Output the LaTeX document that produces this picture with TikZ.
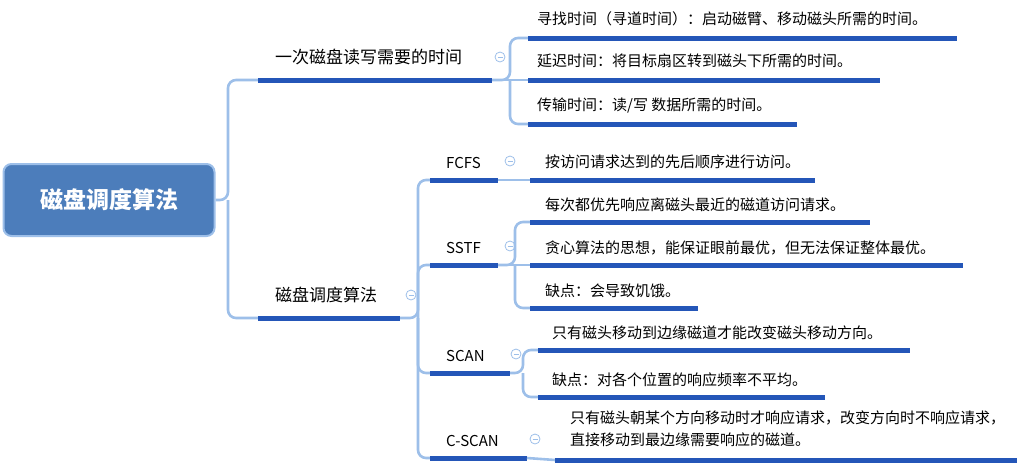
\documentclass[tikz,border=0pt]{standalone}
\usepackage{fontspec}
\setmainfont{Noto Sans CJK SC}
\begin{document}
\begin{tikzpicture}[x=1pt,y=-1pt,
  txt/.style={anchor=base west,inner sep=0pt,font=\fontsize{15}{17}\selectfont},
  big/.style={anchor=base west,inner sep=0pt,font=\fontsize{17}{19}\selectfont},
  ul/.style={line width=5pt,draw=ublue},
  cn/.style={line width=2.6pt,draw=cblue,rounded corners=8pt},
  col/.style={circle,draw=cblue,line width=0.8pt,minimum size=10pt,inner sep=0pt,
    path picture={\draw[cblue,line width=0.8pt] ([xshift=-2.5pt]path picture bounding box.center) -- ([xshift=2.5pt]path picture bounding box.center);}}]
\definecolor{ublue}{HTML}{2456B8}
\definecolor{cblue}{HTML}{9DBFE9}
\definecolor{rootf}{HTML}{4C7DBB}
\useasboundingbox (0,0) rectangle (1017,475);
% root
\node[draw=cblue,line width=2pt,fill=rootf,rounded corners=8pt,minimum width=211pt,minimum height=72pt,text=white,font=\fontsize{23}{25}\selectfont\bfseries] (root) at (109,200) {磁盘调度算法};
\coordinate (a1) at (258,80); \coordinate (a2) at (492,80);
\coordinate (b1) at (258,318); \coordinate (b2) at (400,318);
\node[big] (ta) at (275,63) {一次磁盘读写需要的时间};
\node[col] (ca) at (500,57) {};
\node[big] (tb) at (275,301) {磁盘调度算法};
\node[col] (cb) at (411,295) {};
\draw[cn] (root.east) -- (228,200) |- (a1);
\draw[cn] (228,200) |- (b1);
\draw[ul] (a1) -- (a2); \draw[ul] (b1) -- (b2);
% branch 1 children
\foreach \y/\e/\t [count=\i] in {38/957/{寻找时间（寻道时间）：启动磁臂、移动磁头所需的时间。},80/880/{延迟时间：将目标扇区转到磁头下所需的时间。},124/797/{传输时间：读/写 数据所需的时间。}}{
  \node[txt] (a\i t) at (537,\y-14) {\t};
  \coordinate (a\i s) at (528,\y); \coordinate (a\i e) at (\e,\y);
}
\draw[cn] (a2) -- (510,80) |- (a1s);
\draw[cn] (510,80) |- (a3s);
\draw[cn] (a2) -- (a2s);
\foreach \i in {1,2,3} \draw[ul] (a\i s) -- (a\i e);
% branch 2 level2
\foreach \n/\y/\e/\t/\cx in {f/180/498/FCFS/510,s/265/498/SSTF/510,sc/373/510/SCAN/516,cs/458/527/C-SCAN/535}{
  \node[txt] (\n t) at (446,\y-12) {\t};
  \node[col] (\n c) at (\cx,\y-19) {};
  \coordinate (\n 1) at (430,\y); \coordinate (\n 2) at (\e,\y);
}
\draw[cn] (b2) -- (418,318) |- (f1);
\draw[cn] (418,318) |- (cs1);
\draw[cn] (418,318) |- (s1);
\draw[cn] (418,318) |- (sc1);
\foreach \n in {f,s,sc,cs} \draw[ul] (\n 1) -- (\n 2);
% FCFS child
\node[txt] (f1t) at (545,167) {按访问请求达到的先后顺序进行访问。};
\coordinate (f1s) at (530,180); \coordinate (f1e) at (815,180);
\draw[cn] (f2) -- (f1s);
\draw[ul] (f1s) -- (f1e);
% SSTF children
\foreach \y/\e/\t [count=\i] in {222/870/{每次都优先响应离磁头最近的磁道访问请求。},265/963/{贪心算法的思想，能保证眼前最优，但无法保证整体最优。},308/698/{缺点：会导致饥饿。}}{
  \node[txt] (s\i t) at (545,\y-12) {\t};
  \coordinate (s\i s) at (530,\y); \coordinate (s\i e) at (\e,\y);
}
\draw[cn] (s2) -- (515,265) |- (s1s);
\draw[cn] (515,265) |- (s3s);
\draw[cn] (s2) -- (s2s);
\foreach \i in {1,2,3} \draw[ul] (s\i s) -- (s\i e);
% SCAN children
\foreach \y/\e/\t [count=\i] in {350/910/{只有磁头移动到边缘磁道才能改变磁头移动方向。},397/825/{缺点：对各个位置的响应频率不平均。}}{
  \node[txt] (sc\i t) at (552,\y-12) {\t};
  \coordinate (sc\i s) at (538,\y); \coordinate (sc\i e) at (\e,\y);
}
\draw[cn] (sc2) -- (523,373) |- (sc1s);
\draw[cn] (523,373) |- (sc2s);
\foreach \i in {1,2} \draw[ul] (sc\i s) -- (sc\i e);
% C-SCAN child
\node[txt,align=left,anchor=north west,font=\fontsize{15}{22}\selectfont] (cs1t) at (570,411) {只有磁头朝某个方向移动时才响应请求，改变方向时不响应请求，\\直接移动到最边缘需要响应的磁道。};
\coordinate (cs1s) at (555,460); \coordinate (cs1e) at (1017,460);
\draw[cn] (cs2) -- (cs1s);
\draw[ul] (cs1s) -- (cs1e);
\end{tikzpicture}
\end{document}
